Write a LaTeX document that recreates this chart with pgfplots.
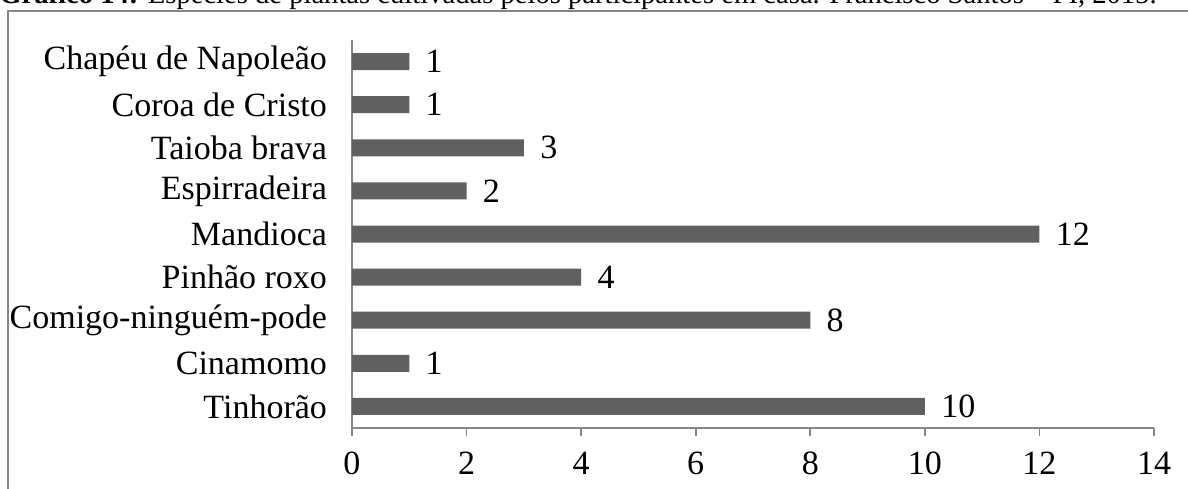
\documentclass[border=0pt]{standalone}
\usepackage{pgfplots}
\pgfplotsset{compat=1.18}
\usepackage{fontspec}
\setmainfont{Liberation Serif}
\definecolor{barc}{RGB}{96,96,96}
\definecolor{axc}{RGB}{134,134,134}
\begin{document}
\begin{tikzpicture}
\path[use as bounding box] (0,0) rectangle (594pt,-244pt);
\clip (0,0) rectangle (594pt,-244pt);
\node[anchor=base west, inner sep=0pt, font=\fontsize{14.3}{16}\selectfont] at (-0.5pt,-1.5pt)
  {\textbf{Gráfico 14:} Espécies de plantas cultivadas pelos participantes em casa. Francisco Santos – PI, 2015.};
\draw[axc, line width=1pt] (4pt,-300pt) -- (4pt,-5.5pt) -- (700pt,-5.5pt);
\begin{axis}[
  at={(176pt,-214pt)}, anchor=south west,
  scale only axis, width=401pt, height=194pt,
  xmin=0, xmax=14, ymin=-0.5, ymax=8.5,
  axis x line*=bottom, axis y line*=left,
  axis line style={axc, line width=0.8pt},
  every tick/.style={axc, line width=0.8pt},
  tick align=outside,
  xtick={0,2,...,14},
  major tick length=4pt,
  ytick={0,...,8},
  yticklabels={Tinhorão,Cinamomo,Comigo-ninguém-pode,Pinhão roxo,Mandioca,Espirradeira,Taioba brava,Coroa de Cristo,Chapéu de Napoleão},
  minor ytick={-0.5,0.5,...,8.5},
  ytick style={draw=none},
  minor tick length=4pt,
  minor tick style={axc, line width=0.8pt, draw=axc},
  ticklabel style={font=\fontsize{17}{20}\selectfont},
  /pgf/number format/assume math mode=true,
  yticklabel style={xshift=-5pt},
  xticklabel style={yshift=-4.5pt},
  xbar, bar width=8.5pt,
  nodes near coords,
  every node near coord/.style={font=\fontsize{17}{20}\selectfont, anchor=west, inner sep=0pt, xshift=8pt, black},
  clip=false,
]
\addplot[fill=barc, draw=none] coordinates {
(10,0) (1,1) (8,2) (4,3) (12,4) (2,5) (3,6) (1,7) (1,8)};
\end{axis}
\end{tikzpicture}
\end{document}
